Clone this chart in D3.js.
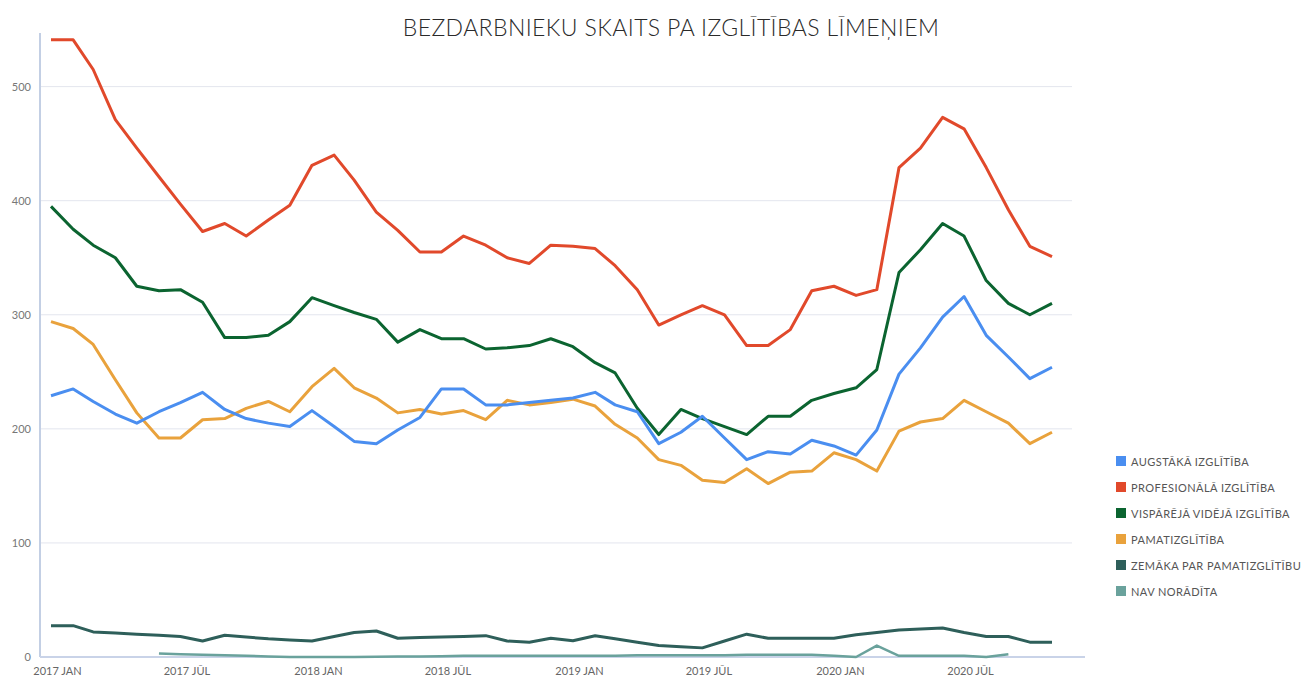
<!DOCTYPE html>
<html>
<head>
<meta charset="utf-8">
<script src="https://cdn.jsdelivr.net/npm/d3@7"></script>
<style>
  body { margin: 0; background: #fff; }
  text { font-family: Lato, "Open Sans", sans-serif; }
</style>
</head>
<body>
<div id="chart"></div>
<script>
// months: 2017 JAN .. 2020 NOV
var startMonth = new Date(2017, 0, 1);
var monthCount = 47;

var seriesNames = [
    "AUGSTĀKĀ IZGLĪTĪBA",
    "PROFESIONĀLĀ IZGLĪTĪBA",
    "VISPĀRĒJĀ VIDĒJĀ IZGLĪTĪBA",
    "PAMATIZGLĪTĪBA",
    "ZEMĀKA PAR PAMATIZGLĪTĪBU",
    "NAV NORĀDĪTA"
];
var seriesColors = ["#4a8ef0", "#e1492b", "#0b6430", "#e9a23c", "#2e5f5a", "#6aa29c"];

var augstaka = [
    229, 235, 224, 213, 205, 215, 223, 232, 217, 209, 205, 202,
    216, 202, 189, 187, 199, 210, 235, 235, 221, 221, 223, 225,
    227, 232, 221, 215, 187, 197, 211, 192, 173, 180, 178, 190,
    185, 177, 199, 248, 271, 298, 316, 282, 263, 244, 254
];
var profesionala = [
    541, 541, 515, 471, 446, 421, 397, 373, 380, 369, 383, 396,
    431, 440, 418, 390, 374, 355, 355, 369, 361, 350, 345, 361,
    360, 358, 343, 322, 291, 300, 308, 300, 273, 273, 287, 321,
    325, 317, 322, 429, 446, 473, 463, 429, 392, 360, 351
];
var visparejaVideja = [
    395, 375, 361, 350, 325, 321, 322, 311, 280, 280, 282, 294,
    315, 308, 302, 296, 276, 287, 279, 279, 270, 271, 273, 279,
    272, 258, 249, 218, 195, 217, 209, 202, 195, 211, 211, 225,
    231, 236, 252, 337, 357, 380, 369, 330, 310, 300, 310
];
var pamatizglitiba = [
    294, 288, 274, 243, 214, 192, 192, 208, 209, 218, 224, 215,
    237, 253, 236, 227, 214, 217, 213, 216, 208, 225, 221, 223,
    226, 220, 204, 192, 173, 168, 155, 153, 165, 152, 162, 163,
    179, 173, 163, 198, 206, 209, 225, 215, 205, 187, 197
];
var zemaka = [
    27.5, 27.5, 22, 21, 20, 19, 18, 14, 19, 17.5, 16, 15,
    14, 18, 21.5, 22.8, 16.4, 17, 17.5, 18, 18.7, 14, 13, 16.5,
    14.3, 18.7, 16, 13, 10, 9, 8, 14, 20, 16.4, 16.4, 16.4,
    16.4, 19.5, 21.5, 23.7, 24.5, 25.5, 21.5, 18, 18, 13, 13
];
var navNoradita = [
    null, null, null, null, null, 3, 2.5, 2, 1.5, 1, 0.5, 0,
    0, 0, 0, 0.3, 0.5, 0.5, 0.7, 1, 1, 1, 1, 1,
    1, 1, 1, 1.5, 1.5, 1.5, 1.5, 1.5, 2, 2, 2, 2,
    1, 0, 10, 1, 1, 1, 1, 0, 2.4, null, null
];

var yTicks = [0, 100, 200, 300, 400, 500];
var monthNames = { 0: "JAN", 6: "JŪL" };

var seriesValues = [augstaka, profesionala, visparejaVideja, pamatizglitiba, zemaka, navNoradita];
var months = d3.range(monthCount).map(function (i) {
    return d3.timeMonth.offset(startMonth, i);
});

var width = 1301, height = 679;

var svg = d3.select("#chart")
    .append("svg")
    .attr("width", width)
    .attr("height", height);

var x = d3.scaleTime()
    .domain([months[0], months[monthCount - 1]])
    .range([51, 1052]);

var y = d3.scaleLinear()
    .domain([0, 547])
    .range([657, 33]);

// title
svg.append("text")
    .attr("x", 671)
    .attr("y", 36)
    .attr("text-anchor", "middle")
    .style("font-size", "23px")
    .style("font-weight", 300)
    .style("letter-spacing", "0.4px")
    .style("fill", "#2a2a2a")
    .text("BEZDARBNIEKU SKAITS PA IZGLĪTĪBAS LĪMEŅIEM");

// gridlines
svg.append("g")
    .selectAll("line")
    .data(yTicks.slice(1))
    .enter()
    .append("line")
    .attr("x1", 40)
    .attr("x2", 1072)
    .attr("y1", function (d) { return y(d); })
    .attr("y2", function (d) { return y(d); })
    .style("stroke", "#e3e6ee")
    .style("stroke-width", 1);

// y axis
var yAxis = svg.append("g")
    .attr("transform", "translate(40,0)")
    .call(d3.axisLeft(y).tickValues(yTicks).tickSize(0).tickPadding(9));
yAxis.select(".domain").attr("d", "M0," + y(0) + "V33").style("stroke", "#c3cfe4").style("stroke-width", 2);
yAxis.selectAll("text").style("font-size", "11px").style("fill", "#777").style("font-family", "Lato, sans-serif");

// x axis
var xAxis = svg.append("g")
    .attr("transform", "translate(0," + y(0) + ")")
    .call(d3.axisBottom(x)
        .ticks(d3.timeMonth.every(6))
        .tickSize(0)
        .tickPadding(10)
        .tickFormat(function (d) {
            return d.getFullYear() + " " + monthNames[d.getMonth()];
        }));
xAxis.select(".domain").attr("d", "M40,0H1085").style("stroke", "#c9d3e8").style("stroke-width", 2);
xAxis.selectAll("text")
    .attr("dx", 6)
    .style("font-size", "11px")
    .style("fill", "#666")
    .style("font-family", "Lato, sans-serif");

// lines
var line = d3.line()
    .defined(function (d) { return d.v !== null; })
    .x(function (d) { return x(d.date); })
    .y(function (d) { return y(d.v); });

var drawOrder = [5, 4, 3, 2, 0, 1];
drawOrder.forEach(function (s) {
    var pts = seriesValues[s].map(function (v, i) {
        return { date: months[i], v: v };
    });
    svg.append("path")
        .datum(pts)
        .attr("d", line)
        .style("fill", "none")
        .style("stroke", seriesColors[s])
        .style("stroke-width", s === 5 ? 2.5 : 3)
        .style("stroke-linejoin", "round");
});

// legend
var legend = svg.append("g")
    .attr("transform", "translate(1116,456)");

var items = legend.selectAll("g")
    .data(seriesNames)
    .enter()
    .append("g")
    .attr("transform", function (d, i) { return "translate(0," + i * 26 + ")"; });

items.append("rect")
    .attr("width", 10)
    .attr("height", 10)
    .style("fill", function (d, i) { return seriesColors[i]; });

items.append("text")
    .attr("x", 15)
    .attr("y", 9.5)
    .style("font-size", "11px")
    .style("letter-spacing", "0.45px")
    .style("fill", "#555")
    .text(function (d) { return d; });
</script>
</body>
</html>
